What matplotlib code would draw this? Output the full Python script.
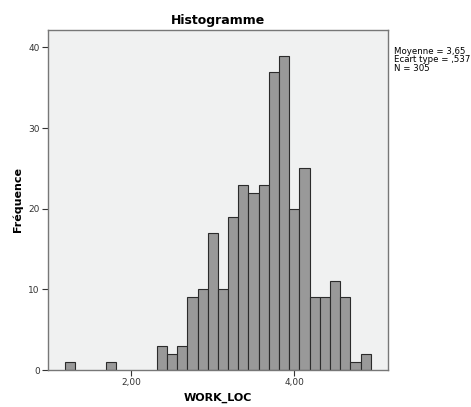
import numpy as np
import matplotlib
matplotlib.use('Agg')
import matplotlib.pyplot as plt
from matplotlib.ticker import FuncFormatter

# bin centres and counts (bin width 0.125)
bin_width = 0.125
bin_centers = [1.25, 1.75,
               2.375, 2.5, 2.625, 2.75, 2.875, 3.0, 3.125, 3.25, 3.375, 3.5,
               3.625, 3.75, 3.875, 4.0, 4.125, 4.25, 4.375, 4.5, 4.625, 4.75, 4.875]
counts = [1, 1,
          3, 2, 3, 9, 10, 17, 10, 19, 23, 22,
          23, 37, 39, 20, 25, 9, 9, 11, 9, 1, 2]
x_ticks = [2.0, 4.0]
y_ticks = [0, 10, 20, 30, 40]
stats = 'Moyenne = 3,65\nEcart type = ,537\nN = 305'

plt.rcParams['font.family'] = ['DejaVu Sans']

fig = plt.figure(figsize=(4.71, 4.07), dpi=100)
ax = fig.add_axes([0.1025, 0.0909, 0.722, 0.836])
ax.set_facecolor('#f0f1f1')

ax.bar(bin_centers, counts, width=bin_width, color='#999999',
       edgecolor='#2b2b2b', linewidth=0.8, align='center')

ax.set_xlim(0.982, 5.153)
ax.set_ylim(0, 42.2)
ax.set_xticks(x_ticks)
ax.set_yticks(y_ticks)
ax.xaxis.set_major_formatter(FuncFormatter(lambda v, p: ('%.2f' % v).replace('.', ',')))
ax.tick_params(axis='both', labelsize=6.5, colors='#333333', length=4, width=0.8, pad=2)

for s in ax.spines.values():
    s.set_color('#777777')
    s.set_linewidth(1.0)

ax.set_title('Histogramme', fontsize=9, fontweight='bold', pad=4)
ax.set_xlabel('WORK_LOC', fontsize=8, fontweight='bold', labelpad=4)
ax.set_ylabel('Fréquence', fontsize=8, fontweight='bold', labelpad=4)

fig.text(0.8365, 0.885, stats, fontsize=6.2, va='top', ha='left', linespacing=0.95)

fig.savefig('out.png', dpi=100)
